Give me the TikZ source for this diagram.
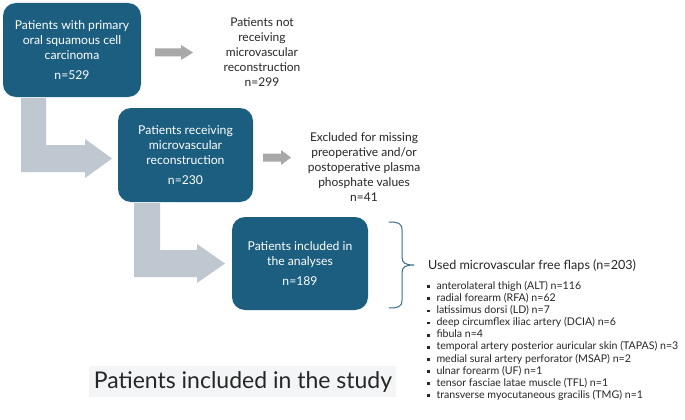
\documentclass[tikz,border=0pt]{standalone}
\usepackage{fontspec}
\setmainfont{Lato}
\usetikzlibrary{calc}
\definecolor{boxblue}{HTML}{1B5E7F}
\definecolor{arrgray}{HTML}{A8A8A8}
\definecolor{lgray}{HTML}{BFC7D1}
\definecolor{bracecol}{HTML}{3A6B8C}
\definecolor{txt}{HTML}{262626}
\definecolor{titlebg}{HTML}{F4F5F7}
\newcommand\sqbul{\raisebox{1.3pt}{\rule{2.8pt}{2.8pt}}\hspace{6.5pt}}
\begin{document}
\begin{tikzpicture}[x=1pt,y=-1pt,
  box/.style={fill=boxblue, rounded corners=13pt, text=white, align=center,
    font=\fontsize{12.2}{15}\selectfont, inner sep=0pt},
  plain/.style={text=txt, align=center, font=\fontsize{12}{15}\selectfont, inner sep=0pt},
  garrow/.style={fill=arrgray},
  larrow/.style={fill=lgray}]
\useasboundingbox (0,0) rectangle (685,420);
\fill[white] (0,0) rectangle (685,420);

% boxes
\node[box, minimum width=138pt, minimum height=94pt] (b1) at (72,50)
  {Patients with primary\\oral squamous cell\\carcinoma\\[5pt]n=529};
\node[box, minimum width=135pt, minimum height=94pt] (b2) at (185.5,155)
  {Patients receiving\\microvascular\\reconstruction\\[5pt]n=230};
\node[box, minimum width=136pt, minimum height=93pt] (b3) at (300,263.5)
  {Patients included in\\the analyses\\[5pt]n=189};

% side texts
\node[plain] (t1) at (262,52)
  {Patients not\\receiving\\microvascular\\reconstruction\\n=299};
\node[plain] (t2) at (364,167)
  {Excluded for missing\\preoperative and/or\\postoperative plasma\\phosphate values\\n=41};

% straight gray arrows
\fill[garrow] (155,48.5) -- (181,48.5) -- (181,45) -- (193,52.5) -- (181,60) -- (181,56.5) -- (155,56.5) -- cycle;
\fill[garrow] (263,153.5) -- (281,153.5) -- (281,150) -- (291,157.5) -- (281,165) -- (281,161.5) -- (263,161.5) -- cycle;

% L-shaped arrows
\fill[larrow] (21,98) -- (46,98) -- (46,145) -- (85,145) -- (85,139) -- (112,158.5) -- (85,178) -- (85,172) -- (21,172) -- cycle;
\fill[larrow] (134,203) -- (160,203) -- (160,250) -- (197,250) -- (197,244) -- (225,263.5) -- (197,283) -- (197,277) -- (134,277) -- cycle;

% brace
\draw[bracecol, line width=1pt, line cap=round]
  (389,222) .. controls (398,222) and (402,223) .. (402,230) -- (402,257)
  .. controls (402,263) and (405,265) .. (414,265)
  .. controls (405,265) and (402,267) .. (402,273) -- (402,300)
  .. controls (402,307) and (398,308) .. (389,308);

% flaps
\node[text=txt, anchor=west, font=\fontsize{12.6}{14}\selectfont, inner sep=0pt] (used) at (428,266)
  {Used microvascular free flaps (n=203)};
\node[text=txt, anchor=north west, align=left, font=\fontsize{10.6}{12.1}\selectfont, inner sep=0pt] (list) at (427,281)
  {\sqbul anterolateral thigh (ALT) n=116\\
   \sqbul radial forearm (RFA) n=62\\
   \sqbul latissimus dorsi (LD) n=7\\
   \sqbul deep circumflex iliac artery (DCIA) n=6\\
   \sqbul fibula n=4\\
   \sqbul temporal artery posterior auricular skin (TAPAS) n=3\\
   \sqbul medial sural artery perforator (MSAP) n=2\\
   \sqbul ulnar forearm (UF) n=1\\
   \sqbul tensor fasciae latae muscle (TFL) n=1\\
   \sqbul transverse myocutaneous gracilis (TMG) n=1};

% title
\fill[titlebg] (89,366) rectangle (396,397);
\node[text=txt, font=\fontsize{23}{26}\selectfont, inner sep=0pt] (title) at (243,381.5)
  {Patients included in the study};
\end{tikzpicture}
\end{document}
